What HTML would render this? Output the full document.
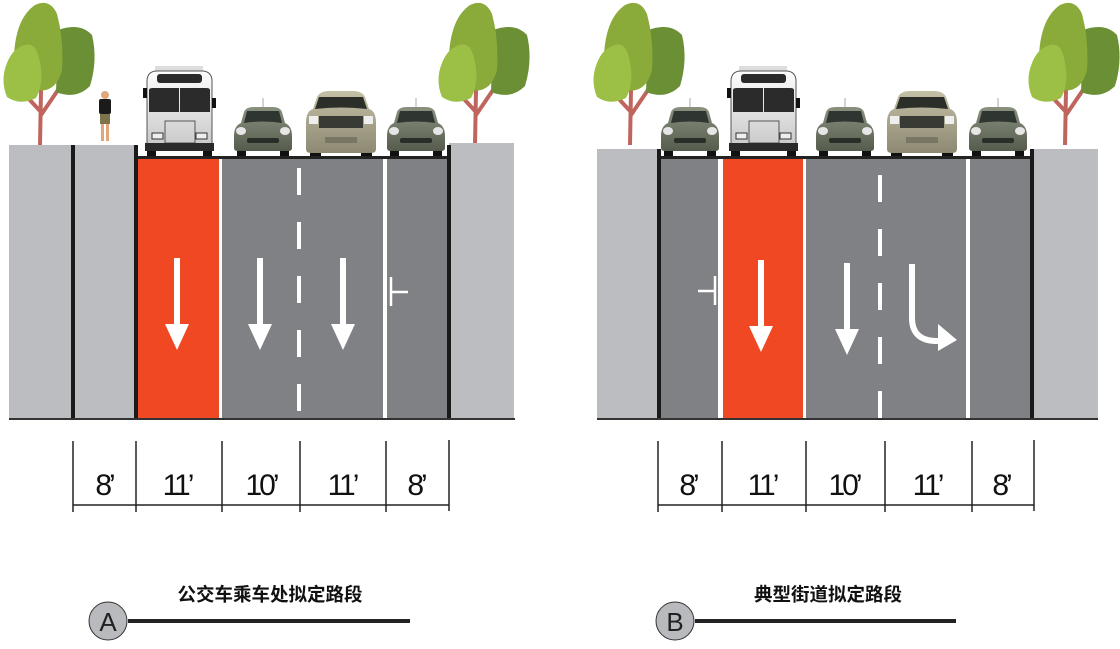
<!DOCTYPE html>
<html><head><meta charset="utf-8"><style>
html,body{margin:0;padding:0;background:#fff;width:1120px;height:649px;overflow:hidden}
svg{display:block}
.dim{font-family:"Liberation Sans",sans-serif;font-size:30px;fill:#111;text-anchor:middle;letter-spacing:-3px}
.ttl{font-family:"Liberation Sans","Noto Sans CJK SC",sans-serif;font-size:18.5px;font-weight:bold;fill:#111;text-anchor:middle}
.lt{font-family:"Liberation Sans",sans-serif;font-size:26px;fill:#222;text-anchor:middle}
</style></head><body>
<svg width="1120" height="649" viewBox="0 0 1120 649" xmlns="http://www.w3.org/2000/svg">
<defs>
<linearGradient id="cg" x1="0" y1="0" x2="0" y2="1"><stop offset="0" stop-color="#8a917f"/><stop offset="1" stop-color="#555c4d"/></linearGradient>
<linearGradient id="sg" x1="0" y1="0" x2="0" y2="1"><stop offset="0" stop-color="#c4c0a6"/><stop offset="1" stop-color="#8c8872"/></linearGradient>
<linearGradient id="bg" x1="0" y1="0" x2="0" y2="1"><stop offset="0" stop-color="#fdfdfd"/><stop offset="1" stop-color="#c9c9c9"/></linearGradient>
<g id="tree">
 <path d="M40 145 L41 90 M41 112 L28 98 L25 90 M41 115 L58 90 L66 75" stroke="#c0655e" stroke-width="4" fill="none"/>
 <path d="M58 30 Q80 22 92 35 Q98 60 90 86 Q76 100 56 92 Z" fill="#6a8f35"/>
 <path d="M35 5 Q50 -2 57 14 Q64 40 62 70 Q56 94 35 90 Q12 84 14 55 Q16 18 35 5 Z" fill="#8aab3a"/>
 <path d="M22 46 Q35 40 39 58 Q45 82 36 98 Q20 106 7 97 Q0 80 7 63 Q12 50 22 46 Z" fill="#9cbf45"/>
</g>
<g id="car">
 <line x1="30" y1="0" x2="30" y2="10" stroke="#aaa" stroke-width="1"/>
 <rect x="4" y="47" width="9" height="13" fill="#111"/><rect x="47" y="47" width="9" height="13" fill="#111"/>
 <path d="M11 14 Q13 9 20 9 H40 Q47 9 49 14 L52 25 Q59 28 59 38 V50 Q59 53 55 53 H5 Q1 53 1 50 V38 Q1 28 8 25 Z" fill="url(#cg)"/>
 <path d="M14 13 H46 L49 25 Q30 22 11 25 Z" fill="#2f3530"/>
 <ellipse cx="8" cy="33" rx="5" ry="4" fill="#e6e6e6"/><ellipse cx="52" cy="33" rx="5" ry="4" fill="#e6e6e6"/>
 <rect x="14" y="40" width="32" height="5" rx="2" fill="#2a2e28"/>
</g>
<g id="suv">
 <rect x="5" y="56" width="11" height="14" fill="#111"/><rect x="56" y="56" width="11" height="14" fill="#111"/>
 <path d="M12 8 Q15 2 24 2 H48 Q57 2 60 8 L64 20 Q71 22 71 34 V60 Q71 64 66 64 H6 Q1 64 1 60 V34 Q1 22 8 20 Z" fill="url(#sg)"/>
 <path d="M14 8 H58 L62 20 Q36 17 10 20 Z" fill="#2c2e2a"/>
 <rect x="14" y="27" width="44" height="12" fill="#3a3a35"/>
 <rect x="4" y="27" width="9" height="8" fill="#eee"/><rect x="59" y="27" width="9" height="8" fill="#eee"/>
 <rect x="20" y="48" width="32" height="6" fill="#7a7664"/>
</g>
<g id="bus">
 <rect x="12" y="0" width="48" height="7" fill="#ddd"/>
 <rect x="4" y="82" width="9" height="10" fill="#111"/><rect x="60" y="82" width="9" height="10" fill="#111"/>
 <path d="M4 14 Q5 5 14 5 H59 Q68 5 69 14 V80 H4 Z" fill="url(#bg)" stroke="#555" stroke-width="1"/>
 <rect x="14" y="8" width="45" height="9" rx="3" fill="#2a2a2a"/>
 <rect x="0" y="22" width="4" height="10" fill="#111"/><rect x="69" y="32" width="4" height="10" fill="#111"/>
 <path d="M6 24 Q6 22 10 22 H36 V46 H6 Z" fill="#2b2b2b"/><path d="M37 22 H63 Q67 22 67 24 V46 H37 Z" fill="#2b2b2b"/>
 <rect x="22" y="55" width="30" height="22" fill="none" stroke="#555"/>
 <rect x="9" y="67" width="11" height="6" fill="#eee" stroke="#333"/><rect x="53" y="67" width="11" height="6" fill="#eee" stroke="#333"/>
 <rect x="2" y="77" width="69" height="8" fill="#2a2a2a"/>
</g>
<g id="ped">
 <circle cx="7" cy="5" r="4" fill="#e0a87a"/>
 <rect x="1" y="9" width="12" height="15" rx="2" fill="#1b1b1b"/>
 <rect x="2" y="24" width="10" height="10" fill="#7d744b"/>
 <rect x="3" y="34" width="3" height="17" fill="#e0a87a"/><rect x="8" y="34" width="3" height="17" fill="#e0a87a"/>
</g>
<g id="arrow"><rect x="-3" y="0" width="6" height="68" fill="#fff"/><path d="M-12 66 H12 L0 92 Z" fill="#fff"/></g>
</defs>

<!-- ===== A ===== -->
<use href="#tree" x="0" y="0"/>
<use href="#tree" x="435" y="0"/>
<use href="#ped" x="98" y="90"/>
<use href="#bus" x="143" y="66"/>
<use href="#car" x="233" y="98"/>
<use href="#suv" x="305" y="89"/>
<use href="#car" x="386" y="98"/>
<rect x="9" y="145" width="128" height="274" fill="#bcbdc0"/>
<rect x="449" y="143" width="65" height="276" fill="#bcbdc0"/>
<rect x="136" y="158" width="315" height="261" fill="#808184"/>
<rect x="136" y="156" width="315" height="3" fill="#222"/>
<rect x="138" y="159" width="81" height="260" fill="#ef4823"/>
<rect x="219" y="159" width="3" height="260" fill="#fff"/>
<rect x="383" y="159" width="4" height="260" fill="#fff"/>
<rect x="71" y="145" width="4" height="274" fill="#1a1a1a"/>
<rect x="134" y="145" width="4" height="274" fill="#1a1a1a"/>
<rect x="447" y="145" width="4" height="274" fill="#1a1a1a"/>
<line x1="299" y1="168" x2="299" y2="419" stroke="#fff" stroke-width="4" stroke-dasharray="27 27"/>
<use href="#arrow" x="177" y="258"/>
<use href="#arrow" x="260" y="258"/>
<use href="#arrow" x="343" y="258"/>
<path d="M391 277 V306 M391 292 H408" stroke="#fff" stroke-width="2.5" fill="none"/>
<rect x="9" y="418" width="506" height="2" fill="#333"/>
<g stroke="#222" stroke-width="1.5">
<line x1="73" y1="441" x2="73" y2="512"/><line x1="136" y1="441" x2="136" y2="512"/><line x1="222" y1="441" x2="222" y2="512"/><line x1="300" y1="441" x2="300" y2="512"/><line x1="386" y1="441" x2="386" y2="512"/><line x1="449" y1="440" x2="449" y2="511"/>
<line x1="73" y1="505" x2="449" y2="505"/></g>
<text class="dim" x="104" y="495">8’</text><text class="dim" x="177" y="495">11’</text><text class="dim" x="261" y="495">10’</text><text class="dim" x="342" y="495">11’</text><text class="dim" x="416" y="495">8’</text>
<text class="ttl" x="270" y="601">公交车乘车处拟定路段</text>
<rect x="128" y="619" width="282" height="4" fill="#222"/>
<circle cx="108" cy="621" r="19" fill="#b9babd" stroke="#333" stroke-width="1"/>
<text class="lt" x="108" y="631">A</text>

<!-- ===== B ===== -->
<use href="#tree" x="590" y="0"/>
<use href="#tree" x="1025" y="0"/>
<use href="#car" x="660" y="98"/>
<use href="#bus" x="727" y="66"/>
<use href="#car" x="815" y="98"/>
<use href="#suv" x="886" y="89"/>
<use href="#car" x="968" y="98"/>
<rect x="597" y="149" width="62" height="270" fill="#bcbdc0"/>
<rect x="1030" y="149" width="68" height="270" fill="#bcbdc0"/>
<rect x="657" y="158" width="375" height="261" fill="#808184"/>
<rect x="657" y="156" width="375" height="3" fill="#222"/>
<rect x="723" y="159" width="80" height="260" fill="#ef4823"/>
<rect x="718" y="159" width="5" height="260" fill="#fff"/>
<rect x="803" y="159" width="3" height="260" fill="#fff"/>
<rect x="966" y="159" width="4" height="260" fill="#fff"/>
<rect x="657" y="149" width="4" height="270" fill="#1a1a1a"/>
<rect x="1030" y="149" width="4" height="270" fill="#1a1a1a"/>
<line x1="880" y1="175" x2="880" y2="419" stroke="#fff" stroke-width="4" stroke-dasharray="27 27"/>
<use href="#arrow" x="761" y="260"/>
<use href="#arrow" x="847" y="263"/>
<path d="M912 264 V318 Q912 340 935 341 H944" stroke="#fff" stroke-width="6" fill="none"/>
<path d="M938 324 L957 340 L938 351 Z" fill="#fff"/>
<path d="M715 276 V305 M698 291 H715" stroke="#fff" stroke-width="2.5" fill="none"/>
<rect x="597" y="418" width="501" height="2" fill="#333"/>
<g stroke="#222" stroke-width="1.5">
<line x1="658" y1="441" x2="658" y2="512"/><line x1="722" y1="441" x2="722" y2="512"/><line x1="806" y1="441" x2="806" y2="512"/><line x1="885" y1="441" x2="885" y2="512"/><line x1="972" y1="441" x2="972" y2="512"/><line x1="1034" y1="440" x2="1034" y2="511"/>
<line x1="658" y1="505" x2="1034" y2="505"/></g>
<text class="dim" x="688" y="495">8’</text><text class="dim" x="762" y="495">11’</text><text class="dim" x="844" y="495">10’</text><text class="dim" x="927" y="495">11’</text><text class="dim" x="1001" y="495">8’</text>
<text class="ttl" x="828" y="601">典型街道拟定路段</text>
<rect x="695" y="619" width="261" height="4" fill="#222"/>
<circle cx="675" cy="621" r="19" fill="#b9babd" stroke="#333" stroke-width="1"/>
<text class="lt" x="675" y="631">B</text>
</svg>
</body></html>
